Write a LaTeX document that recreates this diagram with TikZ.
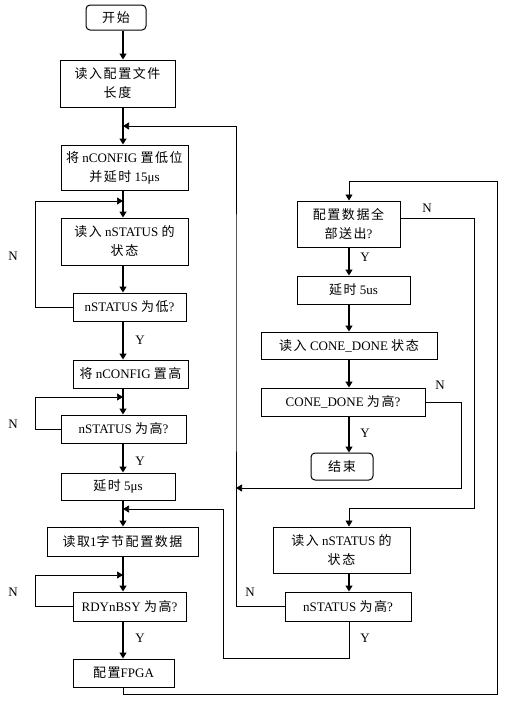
\documentclass[tikz,border=0pt]{standalone}
\usepackage{fontspec}
\setmainfont{Liberation Serif}
\newfontfamily\cjk[LetterSpace=12]{Noto Sans CJK SC}
\usetikzlibrary{arrows.meta}
\newcommand\zh[1]{{\cjk #1}}
\begin{document}
\begin{tikzpicture}[x=1pt,y=-1pt,
 box/.style={draw,line width=1pt,inner sep=0pt,align=center,font=\fontsize{13}{19}\selectfont},
 rbox/.style={box,rounded corners=4pt},
 sz/.style n args={2}{minimum width=#1pt,minimum height=#2pt},
 arr/.style={line width=1.2pt,-{Triangle[length=6pt,width=7pt]}},
 lp/.style={line width=0.7pt},
 lparr/.style={lp,-{Triangle[length=6pt,width=7pt]}},
 lab/.style={font=\fontsize{13}{15}\selectfont}]
\useasboundingbox (0,0) rectangle (506,702);
\fill[white] (0,0) rectangle (506,702);
\coordinate (L) at (123,0);
\coordinate (R) at (349,0);
% left column
\node[rbox,sz={60}{25}] (start) at (116,17.5) {\zh{开始}};
\node[box,sz={115}{47}] (b1) at (117.5,83.5) {\zh{读入配置文件}\\\zh{长度}};
\node[box,sz={127}{45}] (b2) at (124.5,167.5) {\zh{将} nCONFIG \zh{置低位}\\\zh{并延时} 15μs};
\node[box,sz={127}{47}] (b3) at (124.5,241.5) {\zh{读入} nSTATUS \zh{的}\\\zh{状态}};
\node[box,sz={113}{28}] (b4) at (129.5,307) {nSTATUS \zh{为低}?};
\node[box,sz={115}{28}] (b5) at (130.5,374) {\zh{将} nCONFIG \zh{置高}};
\node[box,sz={125}{28}] (b6) at (123.5,429) {nSTATUS \zh{为高}?};
\node[box,sz={114}{27}] (b7) at (118,486.5) {\zh{延时} 5μs};
\node[box,sz={151}{29}] (b8) at (122.5,541.5) {\zh{读取}1\zh{字节配置数据}};
\node[box,sz={113}{29}] (b9) at (129.5,606.5) {RDYnBSY \zh{为高}?};
\node[box,sz={101}{28}] (b10) at (123.5,673) {\zh{配置}FPGA};
% right column
\node[box,sz={103}{46}] (r1) at (348.5,224) {\zh{配置数据全}\\\zh{部送出}?};
\node[box,sz={113}{28}] (r2) at (353.5,290) {\zh{延时} 5us};
\node[box,sz={176}{27}] (r3) at (349,345.5) {\zh{读入} CONE\_DONE \zh{状态}};
\node[box,sz={164}{28}] (r4) at (343,402) {CONE\_DONE \zh{为高}?};
\node[rbox,sz={62}{27}] (r5) at (342,466.5) {\zh{结束}};
\node[box,sz={137}{46}] (r6) at (341.5,550) {\zh{读入} nSTATUS \zh{的}\\\zh{状态}};
\node[box,sz={126}{29}] (r7) at (348,606.5) {nSTATUS \zh{为高}?};
% junction coordinates
\coordinate (jA) at (123,126);
\coordinate (j1) at (123,201);
\coordinate (j2) at (123,397);
\coordinate (jC) at (123,509);
\coordinate (j3) at (123,575);
\coordinate (jB) at (236,488);
% main left connectors
\draw[arr] (start.south -| L) -- (b1.north -| L);
\draw[arr] (b1.south -| L) -- (b2.north -| L);
\draw[arr] (b2.south -| L) -- (b3.north -| L);
\draw[arr] (b3.south -| L) -- (b4.north -| L);
\draw[arr] (b4.south -| L) -- (b5.north -| L);
\draw[arr] (b5.south -| L) -- (b6.north -| L);
\draw[arr] (b6.south -| L) -- (b7.north -| L);
\draw[arr] (b7.south -| L) -- (b8.north -| L);
\draw[arr] (b8.south -| L) -- (b9.north -| L);
\draw[arr] (b9.south -| L) -- (b10.north -| L);
% left loops
\draw[lparr] (b4.west) -| (35,201) -- (j1);
\draw[lparr] (b6.west) -| (35,397) -- (j2);
\draw[lparr] (b9.west) -| (35,575) -- (j3);
% right column connectors
\draw[arr] (r1.south -| R) -- (r2.north -| R);
\draw[arr] (r2.south -| R) -- (r3.north -| R);
\draw[arr] (r3.south -| R) -- (r4.north -| R);
\draw[arr] (r4.south -| R) -- (r5.north -| R);
\draw[arr] (r6.south -| R) -- (r7.north -| R);
% long connectors
\draw[lparr] (b10.south -| L) |- (497,694) |- (349,181) -- (r1.north -| R);
\draw[lparr] ([yshift=6pt]r1.east) -| (474,508) -| (r6.north -| R);
\draw[lparr] (r4.east) -| (461,488) -- (jB);
\draw[lparr] (r7.west) -| (236,300) |- (jA);
\draw[lparr] (r7.south -| R) |- (223,658) |- (jC);
% labels
\node[lab] (n1) at (13,256) {N};
\node[lab] (n2) at (13,424) {N};
\node[lab] (n3) at (13,592) {N};
\node[lab] (y1) at (140,340) {Y};
\node[lab] (y2) at (140,461) {Y};
\node[lab] (y3) at (140,638) {Y};
\node[lab] (y4) at (365,257) {Y};
\node[lab] (n4) at (427,208) {N};
\node[lab] (y5) at (365,433) {Y};
\node[lab] (n5) at (440,385) {N};
\node[lab] (n6) at (250,592) {N};
\node[lab] (y6) at (365,638) {Y};
\end{tikzpicture}
\end{document}
